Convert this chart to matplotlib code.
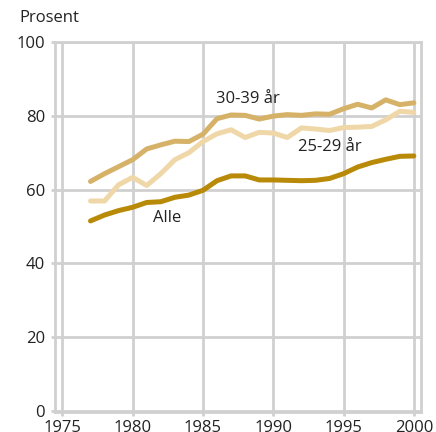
import matplotlib
matplotlib.use('Agg')
import matplotlib.pyplot as plt

years = list(range(1977, 2001))

age_30_39 = [62.2, 64.3, 66.2, 68.1, 71.0, 72.1, 73.1, 73.0, 75.0, 79.2, 80.2, 80.1,
             79.1, 79.9, 80.3, 80.1, 80.5, 80.4, 81.9, 83.1, 82.1, 84.3, 83.0, 83.5]
age_25_29 = [56.9, 56.9, 61.3, 63.3, 61.1, 64.3, 68.1, 70.0, 73.0, 75.1, 76.2, 74.1,
             75.5, 75.3, 74.1, 76.7, 76.4, 76.0, 76.8, 76.9, 77.1, 78.9, 81.2, 80.9]
alle = [51.5, 53.1, 54.3, 55.2, 56.5, 56.7, 57.9, 58.5, 59.8, 62.4, 63.7, 63.7,
        62.6, 62.6, 62.5, 62.4, 62.5, 63.0, 64.3, 66.1, 67.3, 68.2, 69.0, 69.1]

x_ticks = [1975, 1980, 1985, 1990, 1995, 2000]
y_ticks = [0, 20, 40, 60, 80, 100]

plt.rcParams['font.family'] = ['Open Sans', 'DejaVu Sans']
text_col = '#222222'
grid_col = '#d0d0d0'

fig = plt.figure(figsize=(4.36, 4.32), dpi=100)
ax = fig.add_axes([0.126, 0.046, 0.840, 0.857])

ax.plot(years, age_25_29, color='#efd7a8', lw=3.6, solid_capstyle='round', zorder=3)
ax.plot(years, age_30_39, color='#d6b269', lw=3.6, solid_capstyle='round', zorder=4)
ax.plot(years, alle, color='#b88a08', lw=3.6, solid_capstyle='round', zorder=5)

ax.text(1985.9, 84.5, '30-39 år', fontsize=12, color=text_col, va='center', ha='left')
ax.text(1991.76, 71.5, '25-29 år', fontsize=12, color=text_col, va='center', ha='left')
ax.text(1981.44, 52.2, 'Alle', fontsize=12, color=text_col, va='center', ha='left')

ax.set_xlim(1974.47, 2000.52)
ax.set_ylim(-0.3, 100)
ax.set_xticks(x_ticks)
ax.set_yticks(y_ticks)
ax.grid(True, color=grid_col, lw=2)
ax.set_axisbelow(True)
for s in ax.spines.values():
    s.set_color(grid_col)
    s.set_linewidth(2)
ax.tick_params(axis='both', colors=grid_col, labelcolor=text_col, labelsize=12, width=2)
ax.tick_params(axis='y', length=3, pad=4)
ax.tick_params(axis='x', length=3, pad=3)

fig.text(19 / 436, 1 - 18 / 432, 'Prosent', fontsize=12, color=text_col, va='center', ha='left')

fig.savefig('out.png', dpi=100)
